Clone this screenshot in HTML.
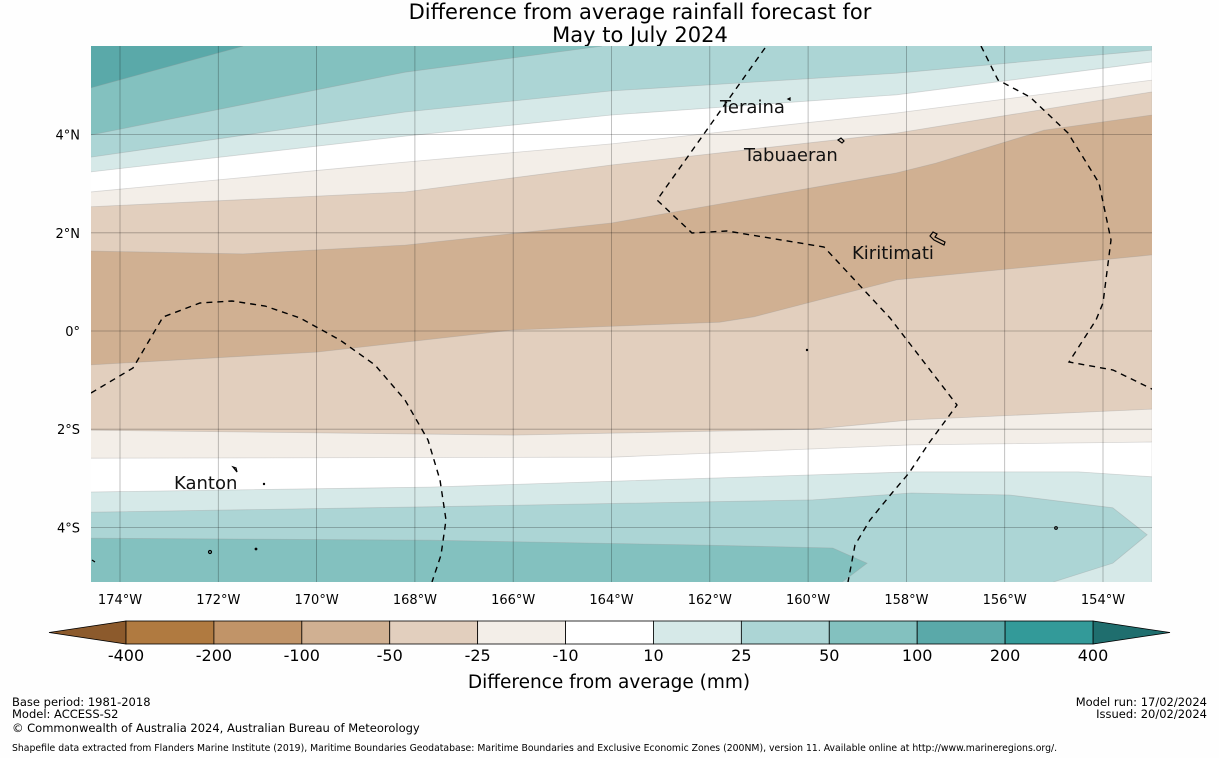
<!DOCTYPE html>
<html><head><meta charset="utf-8">
<style>
html,body{margin:0;padding:0;background:#fefefe;}
body{width:1219px;height:758px;overflow:hidden;font-family:"Liberation Sans","DejaVu Sans",sans-serif;}
svg{display:block}
</style></head>
<body>
<svg id="chart" width="1219" height="758" viewBox="0 0 1219 758" xmlns="http://www.w3.org/2000/svg">
<text x="640" y="19" text-anchor="middle" font-size="21" font-family="DejaVu Sans, Liberation Sans, sans-serif">Difference from average rainfall forecast for</text>
<text x="640" y="42" text-anchor="middle" font-size="21" font-family="DejaVu Sans, Liberation Sans, sans-serif">May to July 2024</text>
<defs><clipPath id="mapclip"><rect x="91" y="46" width="1061" height="536"/></clipPath></defs>
<g id="map" clip-path="url(#mapclip)">
<rect x="91" y="46" width="1061" height="536" fill="#d0b092"/>
<g id="fills"></g>
<g id="grid"></g>
<g id="eez" fill="none" stroke="#000" stroke-width="1.4" stroke-dasharray="6,5">
<path d="M91,393 L133,368 L163,317 L200,303 L232,301 L265,306 L300,318 L340,340 L375,365 L405,400 L428,440 L440,480 L446,520 L441,555 L432,582"/>
<path d="M765,48 L657,200 L692,233 L727,231 L824,247 L890,318 L957,405 L929,443 L909,473 L892,493 L870,520 L855,545 L848,582"/>
<path d="M981,46 L998,80 L1030,97 L1068,133 L1099,183 L1111,240 L1103,303 L1096,320 L1069,362 L1113,370 L1154,390"/>
</g>
<g fill="none" stroke="#000" stroke-width="1.2">
<path d="M788,99 l2,-1 l0,2 z"/>
<path d="M838,140 l3,-2 l3,3 l-2,2 z"/>
<path d="M930,236 l3,-4 l4,2 l-2,3 l10,5 l-1,3 l-10,-5 z"/>
<path d="M233,467 l3,1 l1,4 z"/>
<circle cx="210" cy="552" r="1.5"/>
<circle cx="256" cy="549" r="0.8"/>
<circle cx="264" cy="484" r="0.6"/>
<circle cx="1056" cy="528" r="1.3"/>
<circle cx="807" cy="350" r="0.6"/>
<path d="M92,560 l3,2"/>
</g>
<g font-size="18" font-family="DejaVu Sans, Liberation Sans, sans-serif" fill="#111">
<text x="720" y="113">Teraina</text>
<text x="744" y="161">Tabuaeran</text>
<text x="852" y="259">Kiritimati</text>
<text x="174" y="489">Kanton</text>
</g>
</g>
<g id="ticks" font-size="13" font-family="DejaVu Sans, Liberation Sans, sans-serif" fill="#000"></g>
<g id="colorbar"></g>
<text x="609" y="688" text-anchor="middle" font-size="18.5" font-family="DejaVu Sans, Liberation Sans, sans-serif">Difference from average (mm)</text>
<g font-size="11.5" font-family="DejaVu Sans, Liberation Sans, sans-serif" fill="#000">
<text x="12" y="706">Base period: 1981-2018</text>
<text x="12" y="718">Model: ACCESS-S2</text>
<text x="12" y="732">© Commonwealth of Australia 2024, Australian Bureau of Meteorology</text>
<text x="1207" y="706" text-anchor="end">Model run: 17/02/2024</text>
<text x="1207" y="718" text-anchor="end">Issued: 20/02/2024</text>
<text x="12" y="751" font-size="9.3">Shapefile data extracted from Flanders Marine Institute (2019), Maritime Boundaries Geodatabase: Maritime Boundaries and Exclusive Economic Zones (200NM), version 11. Available online at http://www.marineregions.org/.</text>
</g>
</svg>
<script>
// Contour boundaries [lon, lat] pairs
const upperM25 = [[-174.6,1.63],[-171.5,1.57],[-168.2,1.75],[-164.0,2.20],[-158.2,3.22],[-157.4,3.42],[-155.2,4.09],[-153.0,4.40]];
const upperM10 = [[-174.6,2.53],[-168.2,2.83],[-164.0,3.38],[-158.2,4.03],[-153.0,4.87]];
const upperWhite = [[-174.6,2.83],[-168.2,3.44],[-164.0,3.81],[-158.2,4.44],[-153.0,5.11]];
const upper10 = [[-174.6,3.24],[-168.2,3.97],[-164.0,4.40],[-158.2,4.81],[-153.0,5.48]];
const upper25 = [[-174.6,3.54],[-168.2,4.46],[-164.0,4.89],[-158.2,5.25],[-153.0,5.72]];
const upper50 = [[-174.6,3.99],[-168.2,5.27],[-164.2,5.80]];
const upper100 = [[-174.6,4.95],[-171.5,5.80]];
const lowerM25 = [[-174.6,-0.69],[-170.0,-0.43],[-166.0,0.02],[-161.8,0.18],[-161.1,0.29],[-158.2,1.04],[-153.0,1.55]];
const lowerM10 = [[-174.6,-2.02],[-166.0,-2.12],[-159.9,-2.0],[-157.9,-1.81],[-153.0,-1.59]];
const lowerWhite = [[-174.6,-2.59],[-164.0,-2.57],[-157.9,-2.32],[-153.0,-2.26]];
const lower10 = [[-174.6,-3.28],[-167.7,-3.18],[-159.9,-2.93],[-157.9,-2.87],[-154.5,-2.87],[-153.0,-2.97]];
const lower25 = [[-174.6,-3.69],[-167.7,-3.58],[-159.9,-3.44],[-157.9,-3.30],[-155.9,-3.34],[-153.8,-3.60],[-153.1,-4.15],[-153.8,-4.73],[-155.0,-5.11]];
const lower50 = [[-174.6,-4.22],[-167.7,-4.26],[-162.1,-4.36],[-159.5,-4.42],[-158.8,-4.73],[-159.3,-5.11]];
const lonTicks = [-174,-172,-170,-168,-166,-164,-162,-160,-158,-156,-154];
const latTicks = [4,2,0,-2,-4];
const cbLevels = [-400,-200,-100,-50,-25,-10,10,25,50,100,200,400];
const cbColors = ["#b07a40","#c19468","#d0b092","#e2cfbe","#f3eee8","#ffffff","#d6e9e8","#acd5d5","#83c1bf","#5aa9a9","#339a99"];

const NS="http://www.w3.org/2000/svg";
const TOP=46, BOT=582;
function xOf(lon){return 120+(lon+174)*49.15;}
function yOf(lat){return 331-lat*49.1;}
function band(line,fill,mode,name){
  const pts=line.map(p=>[xOf(p[0]),yOf(p[1])]);
  const edge=mode==='up'?TOP-2:BOT+2;
  let d='M'+pts.map(p=>p[0].toFixed(1)+','+p[1].toFixed(1)).join(' L');
  d+=' L'+pts[pts.length-1][0].toFixed(1)+','+edge+' L'+pts[0][0].toFixed(1)+','+edge+' Z';
  const el=document.createElementNS(NS,'path');
  el.setAttribute('d',d);el.setAttribute('fill',fill);
  el.setAttribute('stroke','#999');el.setAttribute('stroke-opacity','0.35');el.setAttribute('stroke-width','0.8');
  
  
  document.getElementById('fills').appendChild(el);
}
band(upperM25,"#e2cfbe",'up','band-minus25-to-minus50-north');
band(upperM10,"#f3eee8",'up','band-minus10-to-minus25-north');
band(upperWhite,"#ffffff",'up','band-near-average-north');
band(upper10,"#d6e9e8",'up','band-10-to-25-north');
band(upper25,"#acd5d5",'up','band-25-to-50-north');
band(upper50,"#83c1bf",'up','band-50-to-100-north');
band(upper100,"#5aa9a9",'up','band-100-to-200-north');
band(lowerM25,"#e2cfbe",'down','band-minus25-to-minus50-south');
band(lowerM10,"#f3eee8",'down','band-minus10-to-minus25-south');
band(lowerWhite,"#ffffff",'down','band-near-average-south');
band(lower10,"#d6e9e8",'down','band-10-to-25-south');
band(lower25,"#acd5d5",'down','band-25-to-50-south');
band(lower50,"#83c1bf",'down','band-50-to-100-south');

const grid=document.getElementById('grid');
const ticks=document.getElementById('ticks');
lonTicks.forEach(l=>{
  const x=xOf(l);
  const ln=document.createElementNS(NS,'line');
  ln.setAttribute('x1',x);ln.setAttribute('x2',x);ln.setAttribute('y1',TOP);ln.setAttribute('y2',BOT);
  ln.setAttribute('stroke','#000');ln.setAttribute('stroke-opacity','0.3');ln.setAttribute('stroke-width','0.8');
  
  
  grid.appendChild(ln);
  const t=document.createElementNS(NS,'text');
  t.setAttribute('x',x);t.setAttribute('y',604);t.setAttribute('text-anchor','middle');
  t.textContent=Math.abs(l)+'°W';
  
  
  ticks.appendChild(t);
});
latTicks.forEach(l=>{
  const y=yOf(l);
  const ln=document.createElementNS(NS,'line');
  ln.setAttribute('x1',91);ln.setAttribute('x2',1152);ln.setAttribute('y1',y);ln.setAttribute('y2',y);
  ln.setAttribute('stroke','#000');ln.setAttribute('stroke-opacity','0.3');ln.setAttribute('stroke-width','0.8');
  
  
  grid.appendChild(ln);
  const t=document.createElementNS(NS,'text');
  t.setAttribute('x',80);t.setAttribute('y',y+5);t.setAttribute('text-anchor','end');
  t.textContent=l===0?'0°':(Math.abs(l)+'°'+(l>0?'N':'S'));
  
  
  ticks.appendChild(t);
});

// colorbar
const cb=document.getElementById('colorbar');
const cbX0=126, cbX1=1093, cbY=621, cbH=23;
const bw=(cbX1-cbX0)/cbColors.length;
function tri(pts,fill,name){
  const p=document.createElementNS(NS,'polygon');
  p.setAttribute('points',pts);p.setAttribute('fill',fill);p.setAttribute('stroke','#000');p.setAttribute('stroke-width','0.8');
  
  
  cb.appendChild(p);
}
tri(`49,${cbY+cbH/2} ${cbX0},${cbY} ${cbX0},${cbY+cbH}`,"#8c5a2c",'colorbar-min-extension');
tri(`1170,${cbY+cbH/2} ${cbX1},${cbY} ${cbX1},${cbY+cbH}`,"#1f6e6e",'colorbar-max-extension');
cbColors.forEach((c,i)=>{
  const r=document.createElementNS(NS,'rect');
  r.setAttribute('x',cbX0+i*bw);r.setAttribute('y',cbY);r.setAttribute('width',bw);r.setAttribute('height',cbH);
  r.setAttribute('fill',c);r.setAttribute('stroke','#000');r.setAttribute('stroke-width','0.8');
  
  
  cb.appendChild(r);
});
cbLevels.forEach((v,i)=>{
  const t=document.createElementNS(NS,'text');
  t.setAttribute('x',cbX0+i*bw);t.setAttribute('y',661);t.setAttribute('text-anchor','middle');
  t.setAttribute('font-size','16');t.setAttribute('font-family','DejaVu Sans, Liberation Sans, sans-serif');
  t.textContent=v;
  
  
  cb.appendChild(t);
});
</script>
</body></html>
